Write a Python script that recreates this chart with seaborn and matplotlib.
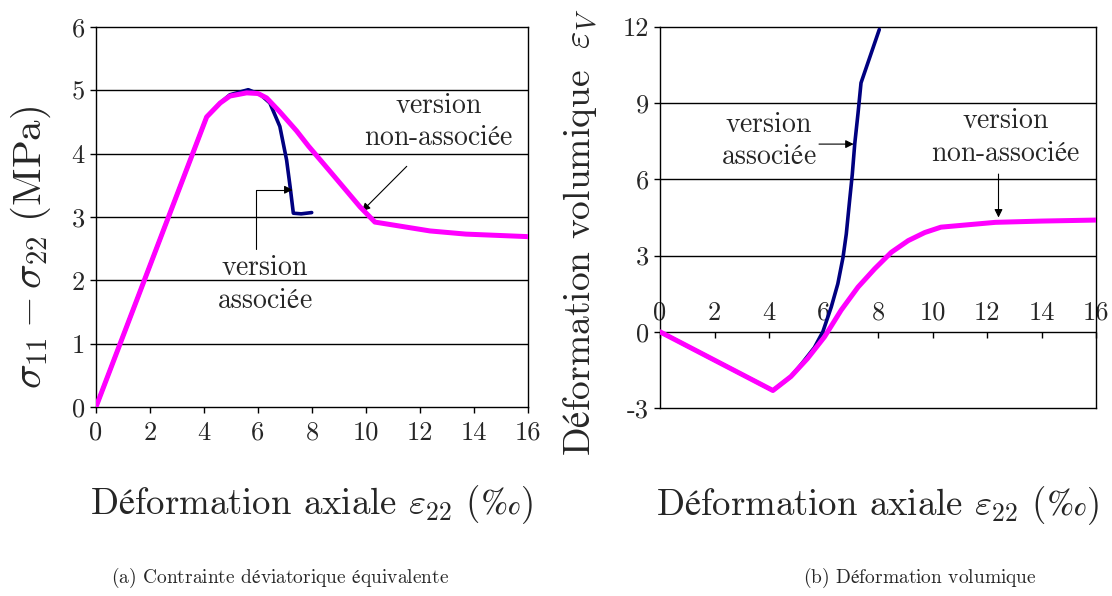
import numpy as np
import pandas as pd
import matplotlib
matplotlib.use("Agg")
import matplotlib.pyplot as plt
from matplotlib.ticker import FormatStrFormatter
import seaborn as sns

# (a) contrainte deviatorique equivalente, sigma11 - sigma22 (MPa)
x_nonassoc_a = [0, 4.10, 4.6, 4.96, 5.58, 6.0, 6.32, 6.81, 7.43, 7.87, 8.67, 9.78, 10.33, 12.37, 13.7, 16.0]
y_nonassoc_a = [0, 4.58, 4.80, 4.91, 4.96, 4.95, 4.88, 4.66, 4.36, 4.12, 3.72, 3.16, 2.92, 2.78, 2.73, 2.69]
x_assoc_a = [0, 4.10, 4.6, 4.96, 5.64, 6.1, 6.44, 6.81, 7.06, 7.19, 7.31, 7.6, 7.99]
y_assoc_a = [0, 4.58, 4.80, 4.93, 5.01, 4.93, 4.80, 4.43, 3.90, 3.48, 3.06, 3.05, 3.07]

# (b) deformation volumique
x_nonassoc_b = [0, 4.14, 4.80, 5.41, 6.03, 6.64, 7.26, 7.87, 8.48, 9.10, 9.71, 10.3, 12.3, 14.0, 16.0]
y_nonassoc_b = [0, -2.31, -1.76, -1.05, -0.20, 0.85, 1.76, 2.48, 3.13, 3.59, 3.91, 4.12, 4.31, 4.36, 4.40]
x_assoc_b = [0, 4.14, 4.80, 5.2, 5.66, 5.97, 6.28, 6.52, 6.71, 6.83, 6.95, 7.05, 7.14, 7.26, 7.37, 8.04]
y_assoc_b = [0, -2.31, -1.76, -1.25, -0.62, 0.0, 0.98, 1.89, 2.93, 3.85, 5.15, 6.2, 7.4, 8.6, 9.8, 11.9]

x_ticks = [0, 2, 4, 6, 8, 10, 12, 14, 16]
y_ticks_a = [0, 1, 2, 3, 4, 5, 6]
y_ticks_b = [-3, 0, 3, 6, 9, 12]

pink = "#ff00ff"
navy = "#000080"

sns.set_theme(style="white")
plt.rcParams['font.family'] = ['cmr10', 'DejaVu Serif']
plt.rcParams['mathtext.fontset'] = 'cm'
plt.rcParams['axes.unicode_minus'] = False


def tx(s):
    return r'$\text{' + s + '}$'


fig = plt.figure(figsize=(11.12, 5.96), dpi=100)
ax1 = fig.add_axes([0.0863, 0.3171, 0.3885, 0.6376])
ax2 = fig.add_axes([0.5935, 0.3154, 0.3925, 0.6393])

dfa_nc = pd.DataFrame({'x': x_nonassoc_a, 'y': y_nonassoc_a})
dfa_as = pd.DataFrame({'x': x_assoc_a, 'y': y_assoc_a})
dfb_nc = pd.DataFrame({'x': x_nonassoc_b, 'y': y_nonassoc_b})
dfb_as = pd.DataFrame({'x': x_assoc_b, 'y': y_assoc_b})

sns.lineplot(data=dfa_as, x='x', y='y', sort=False, estimator=None, color=navy, lw=2.6, ax=ax1, zorder=3)
sns.lineplot(data=dfa_nc, x='x', y='y', sort=False, estimator=None, color=pink, lw=3.6, ax=ax1, zorder=4)
sns.lineplot(data=dfb_as, x='x', y='y', sort=False, estimator=None, color=navy, lw=2.6, ax=ax2, zorder=3)
sns.lineplot(data=dfb_nc, x='x', y='y', sort=False, estimator=None, color=pink, lw=3.6, ax=ax2, zorder=4)

for ax in (ax1, ax2):
    for sp in ax.spines.values():
        sp.set_visible(True)
        sp.set_color('black')
        sp.set_linewidth(1.0)
    ax.set_xlim(0, 16)
    ax.grid(False)
    ax.tick_params(axis='y', direction='out', length=4, width=1, color='black',
                   labelsize=19, pad=4, left=True)
    ax.yaxis.set_major_formatter(FormatStrFormatter('%d'))

# panel (a)
ax1.set_ylim(0, 6)
ax1.set_yticks(y_ticks_a)
ax1.set_xticks(x_ticks)
ax1.xaxis.set_major_formatter(FormatStrFormatter('%d'))
ax1.tick_params(axis='x', direction='out', length=4, width=1, color='black',
                labelsize=19, pad=6, bottom=True)
for v in y_ticks_a[1:-1]:
    ax1.axhline(v, color='black', lw=1.0, zorder=1)
ax1.set_xlabel(tx('Déformation axiale') + r' $\varepsilon_{22}$ ' + r'$(‰)$', fontsize=26.5)
ax1.xaxis.set_label_coords(0.5, -0.2)
ax1.set_ylabel(r'$\sigma_{11} - \sigma_{22}\ (\mathrm{MPa})$', fontsize=29.5)
ax1.yaxis.set_label_coords(-0.1, 0.42)

ax1.text(6.26, 1.94, tx('version') + '\n' + tx('associée'), ha='center', va='center',
         fontsize=20, linespacing=1.3)
ax1.annotate('', xy=(7.28, 3.43), xytext=(5.91, 2.49),
             arrowprops=dict(arrowstyle='-|>', color='black', lw=0.8, mutation_scale=12,
                             shrinkA=0, shrinkB=0,
                             connectionstyle='angle,angleA=90,angleB=0,rad=0'))
ax1.text(12.7, 4.5, tx('version') + '\n' + tx('non-associée'), ha='center', va='center',
         fontsize=20, linespacing=1.3)
ax1.annotate('', xy=(9.85, 3.09), xytext=(11.51, 3.80),
             arrowprops=dict(arrowstyle='-|>', color='black', lw=0.8, mutation_scale=12,
                             shrinkA=0, shrinkB=0))

# panel (b)
ax2.set_ylim(-3, 12)
ax2.set_yticks(y_ticks_b)
ax2.set_xticks([])
for v in y_ticks_b[1:-1]:
    ax2.axhline(v, color='black', lw=1.0, zorder=1)
secx = ax2.secondary_xaxis(0, transform=ax2.transData)
secx.set_xticks(x_ticks)
secx.xaxis.set_major_formatter(FormatStrFormatter('%d'))
secx.tick_params(axis='x', direction='out', length=4, width=1, color='black',
                 labelsize=19, pad=-26)
for sp in secx.spines.values():
    sp.set_visible(False)
ax2.set_xlabel(tx('Déformation axiale') + r' $\varepsilon_{22}$ ' + r'$(‰)$', fontsize=26.5)
ax2.xaxis.set_label_coords(0.5, -0.2)
ax2.set_ylabel(tx('Déformation volumique') + r'$\ \ \varepsilon_V$', fontsize=27)
ax2.yaxis.set_label_coords(-0.14, 0.46)

ax2.text(4.0, 7.52, tx('version') + '\n' + tx('associée'), ha='center', va='center',
         fontsize=20, linespacing=1.3)
ax2.annotate('', xy=(7.1, 7.39), xytext=(5.83, 7.39),
             arrowprops=dict(arrowstyle='-|>', color='black', lw=0.8, mutation_scale=12,
                             shrinkA=0, shrinkB=0))
ax2.text(12.67, 7.65, tx('version') + '\n' + tx('non-associée'), ha='center', va='center',
         fontsize=20, linespacing=1.3)
ax2.annotate('', xy=(12.41, 4.5), xytext=(12.41, 6.21),
             arrowprops=dict(arrowstyle='-|>', color='black', lw=0.8, mutation_scale=12,
                             shrinkA=0, shrinkB=0))

fig.text(280 / 1112, 1 - 578 / 596, tx('(a) Contrainte déviatorique équivalente'),
         ha='center', va='center', fontsize=14)
fig.text(920 / 1112, 1 - 578 / 596, tx('(b) Déformation volumique'),
         ha='center', va='center', fontsize=14)

fig.savefig("out.png", dpi=100)
